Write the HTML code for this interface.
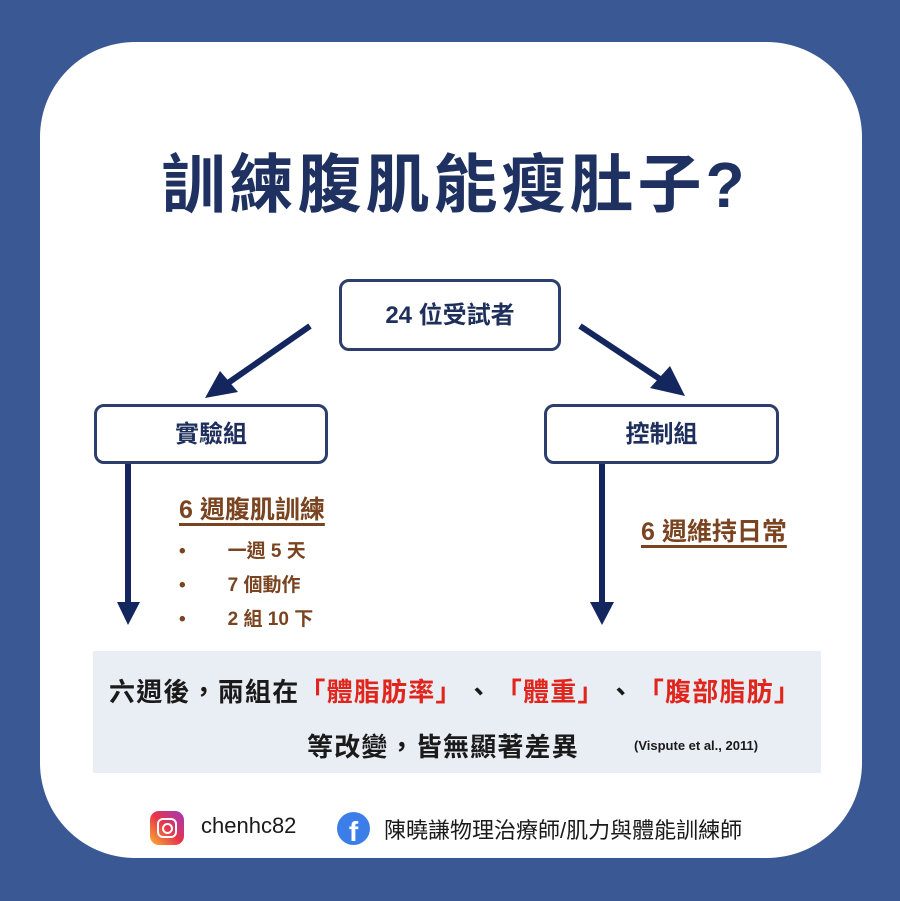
<!DOCTYPE html>
<html><head><meta charset="utf-8"><style>
body{margin:0;width:900px;height:901px;background:#3a5894;position:relative;overflow:hidden;font-family:"Liberation Sans","Noto Sans CJK TC",sans-serif;}
.card{position:absolute;left:40px;top:42px;width:822px;height:816px;background:#fff;border-radius:95px;}
.a{position:absolute;white-space:nowrap;}
.box{position:absolute;border:3px solid #2c3e6b;border-radius:10px;background:#fff;box-sizing:border-box;display:flex;align-items:center;justify-content:center;font-weight:bold;color:#1f2f5c;font-size:24px;padding-bottom:6px;}
.br{color:#7a4420;font-weight:bold;}
.red{color:#e0261c;}
.c{margin:0 16px;}
</style></head><body>
<div class="card"></div>
<div class="a" style="left:0;width:910px;top:134px;text-align:center;font-size:64px;font-weight:bold;color:#1f3160;letter-spacing:4px;">訓練腹肌能瘦肚子?</div>
<div class="box" style="left:339px;top:279px;width:222px;height:72px;">24 位受試者</div>
<div class="box" style="left:94px;top:404px;width:234px;height:60px;">實驗組</div>
<div class="box" style="left:544px;top:404px;width:235px;height:60px;">控制組</div>
<svg style="position:absolute;left:0;top:0" width="900" height="901">
<g stroke="#13265e" stroke-width="6" fill="#13265e">
<line x1="310" y1="326" x2="228" y2="383"/>
<polygon points="205,398 220,371 238,392" stroke="none"/>
<line x1="580" y1="326" x2="663" y2="381"/>
<polygon points="685,396 650,388 670,366" stroke="none"/>
<line x1="128" y1="464" x2="128" y2="605"/>
<polygon points="117,602 140,602 128,625" stroke="none"/>
<line x1="602" y1="464" x2="602" y2="605"/>
<polygon points="590,602 614,602 602,625" stroke="none"/>
</g>
</svg>
<div class="a br" style="left:179px;top:490px;font-size:25px;text-decoration:underline;text-underline-offset:5px;text-decoration-thickness:3px;">6 週腹肌訓練</div>
<div class="a br" style="left:179px;top:536px;font-size:19px;">•<span style="margin-left:42px">一週 5 天</span></div>
<div class="a br" style="left:179px;top:570px;font-size:19px;">•<span style="margin-left:42px">7 個動作</span></div>
<div class="a br" style="left:179px;top:604px;font-size:19px;">•<span style="margin-left:42px">2 組 10 下</span></div>
<div class="a br" style="left:641px;top:512px;font-size:25px;text-decoration:underline;text-underline-offset:5px;text-decoration-thickness:3px;">6 週維持日常</div>
<div class="a" style="left:93px;top:651px;width:728px;height:122px;background:#e9edf4;"></div>
<div class="a" style="left:109px;top:672px;font-size:26px;font-weight:bold;color:#1a1a1a;letter-spacing:1.2px;">六週後，兩組在<span class="red">「體脂肪率」</span><span class="c">、</span><span class="red">「體重」</span><span class="c">、</span><span class="red">「腹部脂肪」</span></div>
<div class="a" style="left:307px;top:727px;font-size:26px;font-weight:bold;color:#1a1a1a;letter-spacing:1.2px;">等改變，皆無顯著差異</div>
<div class="a" style="left:634px;top:738px;font-size:13px;font-weight:bold;color:#1a1a1a;">(Vispute et al., 2011)</div>
<div class="a" style="left:150px;top:811px;width:34px;height:34px;border-radius:9px;background:linear-gradient(45deg,#f9b233,#e8344a 50%,#9b3bbd);"></div>
<div class="a" style="left:157px;top:818px;width:16px;height:16px;border:2.5px solid #fff;border-radius:6px;"></div>
<div class="a" style="left:162px;top:823px;width:7px;height:7px;border:2.5px solid #fff;border-radius:50%;"></div>
<div class="a" style="left:201px;top:813px;font-size:22px;color:#1a1a1a;">chenhc82</div>
<div class="a" style="left:337px;top:812px;width:33px;height:33px;border-radius:50%;background:#3b7ee8;color:#fff;font-weight:bold;font-size:28px;text-align:center;line-height:40px;overflow:hidden;">f</div>
<div class="a" style="left:384px;top:813px;font-size:22px;color:#1a1a1a;">陳曉謙物理治療師/肌力與體能訓練師</div>
</body></html>
